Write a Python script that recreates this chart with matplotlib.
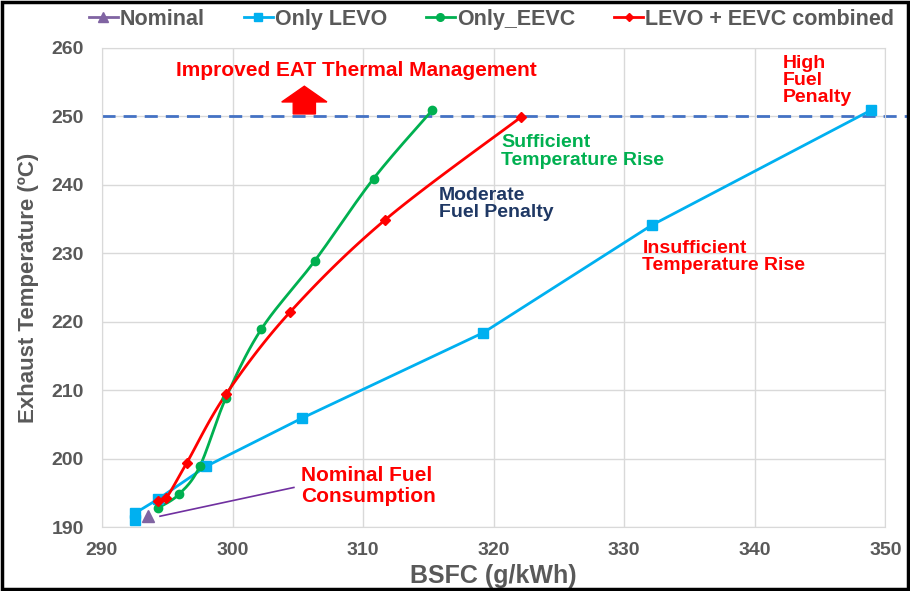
import matplotlib
matplotlib.use('Agg')
import matplotlib.pyplot as plt
from matplotlib.lines import Line2D
from matplotlib.patches import FancyArrow, Rectangle
import numpy as np

plt.rcParams['font.family'] = ['Liberation Sans', 'DejaVu Sans']

# 数据（BSFC g/kWh, 排气温度 °C）
nominal_x = [293.5]
nominal_y = [191.7]

levo_x = [292.5, 292.5, 294.3, 298.0, 305.3, 319.2, 332.1, 348.9]
levo_y = [191.0, 192.0, 194.1, 198.9, 205.9, 218.4, 234.1, 250.9]

eevc_x = [294.3, 295.9, 297.5, 299.5, 302.2, 306.3, 310.8, 315.3]
eevc_y = [192.8, 194.8, 198.9, 208.9, 218.9, 228.9, 240.9, 250.9]

combo_x = [294.3, 294.9, 296.5, 299.5, 304.4, 311.7, 322.1]
combo_y = [193.8, 194.2, 199.4, 209.4, 221.4, 234.9, 249.9]

target_temp = 250
x_ticks = [290, 300, 310, 320, 330, 340, 350]
y_ticks = [190, 200, 210, 220, 230, 240, 250, 260]

C_BLUE = '#00B0F0'
C_GREEN = '#00B050'
C_RED = '#FF0000'
C_PURPLE = '#8064A2'
C_GRAY = '#595959'


def smooth(xs, ys, n=20):
    """Catmull-Rom 平滑曲线（类似Excel平滑线）"""
    p = np.column_stack([xs, ys]).astype(float)
    p = np.vstack([p[0], p, p[-1]])
    out = []
    t = np.linspace(0, 1, n, endpoint=False)[:, None]
    for i in range(1, len(p) - 2):
        p0, p1, p2, p3 = p[i - 1], p[i], p[i + 1], p[i + 2]
        seg = 0.5 * ((2 * p1) + (-p0 + p2) * t +
                     (2 * p0 - 5 * p1 + 4 * p2 - p3) * t ** 2 +
                     (-p0 + 3 * p1 - 3 * p2 + p3) * t ** 3)
        out.append(seg)
    out.append(p[-2][None, :])
    out = np.vstack(out)
    return out[:, 0], out[:, 1]


def px(x, y):
    """像素位置 -> 数据坐标（用于摆放注释）"""
    return 290 + (x - 102) / 13.05, 260 - (y - 48) / 6.84


fig = plt.figure(figsize=(9.1, 5.91), dpi=100)
ax = fig.add_axes([0.112, 0.108, 0.861, 0.811])

# 曲线：LEVO为折线，其余为平滑线
ax.plot(levo_x, levo_y, color=C_BLUE, lw=2, zorder=3)
ax.plot(levo_x, levo_y, ls='none', marker='s', color=C_BLUE, ms=6.5, zorder=4, clip_on=False)
for xs, ys, c, m, ms in [(eevc_x, eevc_y, C_GREEN, 'o', 6),
                         (combo_x, combo_y, C_RED, 'D', 5)]:
    sx, sy = smooth(xs, ys)
    ax.plot(sx, sy, color=c, lw=2, zorder=3)
    ax.plot(xs, ys, ls='none', marker=m, color=c, ms=ms, zorder=4, clip_on=False)

ax.plot(nominal_x, nominal_y, ls='none', marker='^', color=C_PURPLE, ms=8, zorder=4)

# 目标温度虚线
ax.plot([0, 1.028], [target_temp, target_temp], transform=ax.get_yaxis_transform(),
        color='#4472C4', lw=2, ls=(0, (4.7, 2.9)), clip_on=False, zorder=2)

# 坐标轴
ax.set_xlim(290, 350)
ax.set_ylim(190, 260)
ax.set_xticks(x_ticks)
ax.set_yticks(y_ticks)
ax.grid(True, color='#D9D9D9', lw=1)
ax.set_axisbelow(True)
for s in ax.spines.values():
    s.set_color('#D9D9D9')
ax.tick_params(axis='y', length=0, labelsize=14, labelcolor=C_GRAY, pad=13)
ax.tick_params(axis='x', length=0, labelsize=14, labelcolor=C_GRAY, pad=11)
for lab in ax.get_xticklabels() + ax.get_yticklabels():
    lab.set_fontweight('bold')
ax.set_xlabel('BSFC (g/kWh)', fontsize=18, fontweight='bold', color=C_GRAY, labelpad=3)
ax.set_ylabel('Exhaust Temperature (ºC)', fontsize=16, fontweight='bold', color=C_GRAY, labelpad=9)

# 注释文字
ax.text(*px(356, 71), 'Improved EAT Thermal Management', color=C_RED,
        fontsize=15, fontweight='bold', ha='center', va='center')
ax.add_patch(FancyArrow(305.5, 250.35, 0, 4.05, width=1.7, head_width=3.46,
                        head_length=2.3, color=C_RED, length_includes_head=True, zorder=5))
ax.text(*px(501, 134), 'Sufficient\nTemperature Rise',
        color=C_GREEN, fontsize=14, fontweight='bold', va='top', linespacing=1.07)
ax.text(*px(439, 187), 'Moderate\nFuel Penalty',
        color='#1F3864', fontsize=14, fontweight='bold', va='top', linespacing=1.0)
ax.text(*px(642, 240), 'Insufficient\nTemperature Rise',
        color=C_RED, fontsize=14, fontweight='bold', va='top', linespacing=1.0)
ax.text(*px(782, 55), 'High\nFuel\nPenalty',
        color=C_RED, fontsize=14, fontweight='bold', va='top', linespacing=1.0)
ax.text(*px(301, 466), 'Nominal Fuel\nConsumption',
        color=C_RED, fontsize=15, fontweight='bold', va='top', linespacing=1.08)
ax.plot([294.45, 304.7], [191.6, 195.8], color='#7030A0', lw=1.2, zorder=3)

# 图例
handles = [Line2D([], [], color=C_PURPLE, marker='^', ms=7, lw=2),
           Line2D([], [], color=C_BLUE, marker='s', ms=5.5, lw=2),
           Line2D([], [], color=C_GREEN, marker='o', ms=5.5, lw=2),
           Line2D([], [], color=C_RED, marker='D', ms=4.5, lw=2)]
labels = ['Nominal', 'Only LEVO', 'Only_EEVC', 'LEVO + EEVC combined']
leg = fig.legend(handles, labels, loc='center', bbox_to_anchor=(0.54, 0.967), ncol=4,
                 frameon=False, handlelength=1.35, handletextpad=0.1,
                 columnspacing=1.8, prop={'weight': 'bold', 'size': 15.5})
for t in leg.get_texts():
    t.set_color(C_GRAY)

# 外边框
fig.patches.append(Rectangle((0.002, 0.003), 0.996, 0.994, transform=fig.transFigure,
                             fill=False, edgecolor='black', lw=2.5))

fig.savefig('out.png', dpi=100)
